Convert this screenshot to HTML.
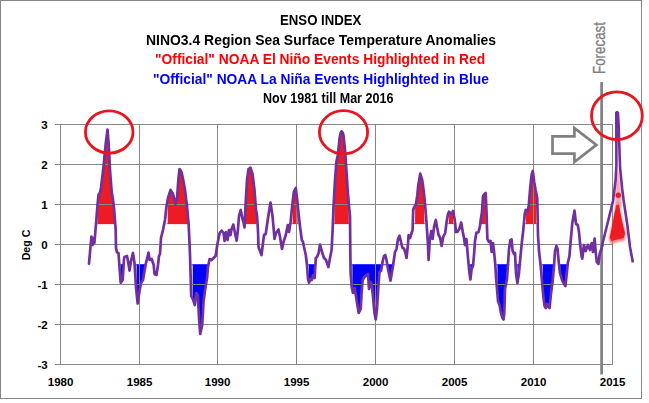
<!DOCTYPE html>
<html><head><meta charset="utf-8"><style>
html,body{margin:0;padding:0;background:#fff;}
body{width:649px;height:403px;position:relative;overflow:hidden;font-family:"Liberation Sans",sans-serif;}
.frame{position:absolute;left:0;top:0;width:640px;height:397px;border:1px solid #868686;box-sizing:content-box;}
.t{position:absolute;white-space:nowrap;font-weight:bold;color:#000;}
</style></head><body>
<div class="frame"></div>
<svg width="649" height="403" viewBox="0 0 649 403" style="position:absolute;left:0;top:0">
<defs><clipPath id="up"><rect x="0" y="0" width="649" height="224.3"/></clipPath><clipPath id="dn"><rect x="0" y="264.3" width="649" height="140"/></clipPath><filter id="bl" x="-30%" y="-30%" width="160%" height="160%"><feGaussianBlur stdDeviation="0.9"/></filter><filter id="bl2" x="-30%" y="-30%" width="160%" height="160%"><feGaussianBlur stdDeviation="1.2"/></filter><filter id="bl3" x="-30%" y="-30%" width="160%" height="160%"><feGaussianBlur stdDeviation="0.5"/></filter></defs>
<g clip-path="url(#up)" fill="#ed1c24">
<path d="M97.5,224.3 L97.5,205.0 L98.6,194.5 L99.8,193.0 L101.0,188.0 L103.6,166.0 L105.7,144.0 L107.5,129.6 L108.7,144.0 L110.0,170.0 L111.7,192.0 L113.0,200.0 L114.0,208.0 L114.8,218.4 L114.8,224.3Z"/>
<rect x="96.3" y="223.4" width="19.7" height="0.9"/>
<path d="M167.7,224.3 L167.7,199.6 L168.0,198.0 L170.6,190.0 L173.0,194.0 L175.5,204.0 L177.0,198.0 L178.5,178.0 L179.6,169.0 L181.5,172.0 L183.2,180.0 L185.0,190.0 L186.2,200.0 L187.0,206.0 L187.7,213.9 L187.7,224.3Z"/>
<rect x="166.5" y="223.4" width="22.4" height="0.9"/>
<path d="M245.4,224.3 L245.4,208.3 L245.7,202.0 L247.0,180.0 L248.5,169.0 L250.5,167.6 L252.5,174.0 L254.5,190.0 L256.0,210.0 L256.1,210.5 L256.1,224.3Z"/>
<rect x="244.2" y="223.4" width="13.1" height="0.9"/>
<path d="M292.7,224.3 L292.7,201.8 L293.8,192.0 L295.8,188.0 L297.2,200.0 L297.7,205.0 L297.7,224.3Z"/>
<rect x="291.5" y="223.4" width="7.4" height="0.9"/>
<path d="M334.5,224.3 L334.5,188.9 L335.0,180.0 L336.4,162.0 L338.0,154.0 L339.6,138.0 L340.6,133.0 L341.6,131.3 L342.6,132.5 L343.4,135.0 L345.0,150.0 L346.4,170.0 L347.6,189.0 L348.7,202.4 L348.7,224.3Z"/>
<rect x="333.3" y="223.4" width="16.6" height="0.9"/>
<path d="M415.1,224.3 L415.1,205.9 L415.8,205.0 L417.2,196.0 L418.2,186.0 L420.2,173.7 L422.2,180.0 L423.8,192.0 L424.3,197.0 L424.3,224.3Z"/>
<rect x="413.9" y="223.4" width="11.6" height="0.9"/>
<path d="M448.9,224.3 L448.9,211.9 L449.0,211.7 L450.6,213.0 L452.0,214.0 L453.0,211.0 L453.1,211.5 L453.1,224.3Z"/>
<rect x="447.7" y="223.4" width="6.6" height="0.9"/>
<path d="M480.9,224.3 L480.9,218.8 L482.0,212.0 L483.0,196.0 L484.5,194.0 L485.7,193.0 L485.8,195.4 L485.8,224.3Z"/>
<rect x="479.7" y="223.4" width="7.3" height="0.9"/>
<path d="M525.9,224.3 L525.9,210.1 L527.5,211.0 L528.7,206.0 L530.2,188.0 L531.6,175.0 L532.8,171.0 L534.2,182.0 L535.6,190.0 L536.1,192.5 L536.1,224.3Z"/>
<rect x="524.7" y="223.4" width="12.6" height="0.9"/>
</g>
<g clip-path="url(#dn)" fill="#0000ff">
<path d="M120.9,264.3 L120.9,282.4 L122.7,280.0 L123.6,265.5 L123.6,264.3Z"/>
<rect x="119.7" y="264.3" width="5.1" height="0.9"/>
<path d="M136.6,264.3 L136.6,292.8 L137.7,303.5 L139.5,291.0 L141.0,283.0 L143.0,280.0 L144.5,271.0 L145.1,267.8 L145.1,264.3Z"/>
<rect x="135.4" y="264.3" width="10.9" height="0.9"/>
<path d="M192.7,264.3 L192.7,299.0 L193.2,300.0 L194.8,305.0 L196.2,293.0 L197.8,295.0 L199.2,321.0 L200.2,334.0 L202.2,325.0 L203.6,301.0 L205.2,289.0 L207.2,277.0 L207.4,274.5 L207.4,264.3Z"/>
<rect x="191.5" y="264.3" width="17.1" height="0.9"/>
<path d="M308.9,264.3 L308.9,282.3 L309.0,282.7 L310.6,279.0 L311.8,280.0 L313.0,275.0 L314.6,278.0 L315.1,269.7 L315.1,264.3Z"/>
<rect x="307.7" y="264.3" width="8.6" height="0.9"/>
<path d="M352.4,264.3 L352.4,290.2 L353.0,293.0 L354.5,288.0 L356.0,296.0 L357.7,307.0 L358.7,313.0 L360.7,309.0 L361.7,291.0 L362.7,280.0 L364.5,277.0 L366.5,275.0 L368.0,274.0 L369.0,289.0 L370.5,282.0 L371.7,284.0 L373.0,297.0 L374.5,313.0 L375.7,319.5 L377.0,309.0 L378.5,285.0 L379.5,272.0 L381.0,271.0 L382.7,261.0 L384.0,256.0 L385.3,255.0 L386.5,260.0 L388.0,269.0 L390.5,280.6 L392.5,269.0 L393.1,265.0 L393.1,264.3Z"/>
<rect x="351.2" y="264.3" width="43.1" height="0.9"/>
<path d="M470.3,264.3 L470.3,278.7 L470.4,279.5 L471.6,269.0 L473.0,266.0 L473.1,264.9 L473.1,264.3Z"/>
<rect x="469.1" y="264.3" width="5.2" height="0.9"/>
<path d="M497.4,264.3 L497.4,293.8 L498.0,301.0 L499.5,305.0 L501.0,313.0 L502.5,318.0 L503.5,319.5 L504.3,313.0 L505.0,289.0 L507.0,279.0 L507.8,267.0 L508.1,262.5 L508.1,264.3Z"/>
<rect x="496.2" y="264.3" width="13.1" height="0.9"/>
<path d="M517.4,264.3 L517.4,283.0 L519.0,273.0 L520.1,260.6 L520.1,264.3Z"/>
<rect x="516.2" y="264.3" width="5.1" height="0.9"/>
<path d="M542.7,264.3 L542.7,289.3 L543.2,295.0 L544.6,306.0 L545.8,308.0 L547.2,304.0 L548.4,307.0 L549.6,308.0 L550.8,295.0 L552.6,281.0 L553.9,267.1 L553.9,264.3Z"/>
<rect x="541.5" y="264.3" width="13.6" height="0.9"/>
<path d="M560.1,264.3 L560.1,273.4 L562.0,280.0 L564.0,284.0 L565.4,286.0 L566.6,275.0 L567.1,270.0 L567.1,264.3Z"/>
<rect x="558.9" y="264.3" width="9.4" height="0.9"/>
</g>
<rect x="55" y="124" width="558" height="1" fill="#868686"/>
<rect x="55" y="164" width="558" height="1" fill="#868686"/>
<rect x="55" y="204" width="558" height="1" fill="#868686"/>
<rect x="55" y="244" width="558" height="1" fill="#868686"/>
<rect x="55" y="284" width="558" height="1" fill="#868686"/>
<rect x="55" y="324" width="558" height="1" fill="#868686"/>
<rect x="55" y="364" width="558" height="1" fill="#868686"/>
<rect x="60" y="124" width="1" height="241" fill="#868686"/>
<rect x="139" y="124" width="1" height="241" fill="#868686"/>
<rect x="217" y="124" width="1" height="241" fill="#868686"/>
<rect x="296" y="124" width="1" height="241" fill="#868686"/>
<rect x="375" y="124" width="1" height="241" fill="#868686"/>
<rect x="454" y="124" width="1" height="241" fill="#868686"/>
<rect x="533" y="124" width="1" height="241" fill="#868686"/>
<rect x="612" y="124" width="1" height="241" fill="#868686"/>
<path d="M616.2,171 L618.4,171 L620.2,186 L621.8,206 L615,209 L615.6,186 Z" fill="#f58a90" opacity="0.8" filter="url(#bl)"/>
<path d="M616.3,203 L619.2,203 L622.3,220 L626,234 L624.5,241 L617,242 L611,244.5 L608.6,239 L611.8,225 L614.3,212 Z" fill="#f2646a" opacity="0.8" filter="url(#bl2)"/>
<path d="M616.5,205 L619,205 L621.8,220 L625,233.5 L623.8,238 L617,239.5 L611.2,241 L609.8,237.5 L612.2,225 L614.6,212.5 Z" fill="#ed1c24" filter="url(#bl3)"/>
<circle cx="618.3" cy="195.2" r="2.7" fill="#ed1c24"/>
<line x1="601.6" y1="82" x2="601.6" y2="374.6" stroke="#808080" stroke-width="2.7"/>
<path d="M89.0,263.7 L91.4,236.5 L92.6,245.0 L93.6,238.0 L94.4,243.0 L96.0,224.0 L97.5,205.0 L98.6,194.5 L99.8,193.0 L101.0,188.0 L103.6,166.0 L105.7,144.0 L107.5,129.6 L108.7,144.0 L110.0,170.0 L111.7,192.0 L113.0,200.0 L114.0,208.0 L115.7,230.0 L116.0,248.0 L117.0,252.5 L118.5,253.0 L119.7,270.0 L120.7,282.7 L122.7,280.0 L124.0,259.0 L124.5,257.0 L127.0,256.0 L128.0,261.0 L129.5,270.6 L131.0,261.0 L133.0,253.0 L134.5,263.0 L136.0,287.0 L137.7,303.5 L139.5,291.0 L141.0,283.0 L143.0,280.0 L144.5,271.0 L146.0,263.0 L147.0,259.0 L148.5,252.5 L149.7,260.0 L151.7,259.0 L153.7,265.0 L154.5,274.0 L156.5,275.0 L158.0,265.0 L159.0,256.0 L160.0,254.0 L161.0,238.0 L163.0,230.0 L165.0,220.0 L166.5,206.0 L168.0,198.0 L170.6,190.0 L173.0,194.0 L175.5,204.0 L177.0,198.0 L178.5,178.0 L179.6,169.0 L181.5,172.0 L183.2,180.0 L185.0,190.0 L186.2,200.0 L187.0,206.0 L188.6,224.0 L189.3,238.0 L190.0,255.0 L190.6,275.0 L191.2,296.0 L193.2,300.0 L194.8,305.0 L196.2,293.0 L197.8,295.0 L199.2,321.0 L200.2,334.0 L202.2,325.0 L203.6,301.0 L205.2,289.0 L207.2,277.0 L208.0,267.0 L209.6,259.0 L211.6,260.0 L213.6,258.0 L215.6,256.0 L217.6,243.0 L219.6,233.0 L221.6,230.6 L223.6,233.0 L224.6,241.0 L226.0,232.0 L227.6,240.0 L229.0,230.0 L230.5,235.0 L231.6,229.0 L233.3,224.6 L235.0,233.0 L236.7,240.6 L238.0,229.0 L239.0,216.0 L240.7,210.0 L242.5,219.0 L243.5,222.0 L244.5,227.4 L245.7,202.0 L247.0,180.0 L248.5,169.0 L250.5,167.6 L252.5,174.0 L254.5,190.0 L256.0,210.0 L257.0,215.0 L258.0,231.0 L258.5,247.0 L260.0,251.0 L261.5,255.0 L263.0,243.0 L264.0,235.0 L265.7,234.0 L267.0,225.0 L268.0,218.0 L270.5,202.5 L272.5,216.0 L273.5,227.0 L274.5,239.0 L276.0,233.0 L278.5,229.4 L280.0,237.0 L282.0,249.0 L283.8,241.0 L285.8,235.0 L287.8,225.0 L289.0,232.0 L290.6,222.0 L292.0,208.0 L293.8,192.0 L295.8,188.0 L297.2,200.0 L298.6,214.0 L299.5,222.0 L300.2,228.0 L301.8,240.0 L303.0,242.0 L304.0,247.0 L305.8,255.0 L307.0,265.0 L308.0,279.0 L309.0,282.7 L310.6,279.0 L311.8,280.0 L313.0,275.0 L314.6,278.0 L315.8,258.0 L317.0,257.0 L318.6,253.0 L320.0,244.6 L322.0,252.0 L324.0,258.0 L326.0,260.0 L328.4,267.0 L330.0,258.0 L331.6,250.0 L332.6,230.0 L333.6,205.0 L335.0,180.0 L336.4,162.0 L338.0,154.0 L339.6,138.0 L340.6,133.0 L341.6,131.3 L342.6,132.5 L343.4,135.0 L345.0,150.0 L346.4,170.0 L347.6,189.0 L349.0,206.0 L350.0,216.0 L350.3,250.0 L350.6,273.0 L351.7,287.0 L353.0,293.0 L354.5,288.0 L356.0,296.0 L357.7,307.0 L358.7,313.0 L360.7,309.0 L361.7,291.0 L362.7,280.0 L364.5,277.0 L366.5,275.0 L368.0,274.0 L369.0,289.0 L370.5,282.0 L371.7,284.0 L373.0,297.0 L374.5,313.0 L375.7,319.5 L377.0,309.0 L378.5,285.0 L379.5,272.0 L381.0,271.0 L382.7,261.0 L384.0,256.0 L385.3,255.0 L386.5,260.0 L388.0,269.0 L390.5,280.6 L392.5,269.0 L394.0,259.0 L395.0,252.0 L396.5,249.0 L398.0,239.0 L399.5,235.7 L401.0,242.0 L402.5,248.0 L404.0,248.5 L405.5,253.0 L406.5,258.0 L407.8,246.0 L408.6,235.0 L410.0,238.0 L411.0,235.0 L412.6,230.0 L413.2,210.0 L414.2,207.0 L415.8,205.0 L417.2,196.0 L418.2,186.0 L420.2,173.7 L422.2,180.0 L423.8,192.0 L425.2,206.0 L426.6,224.0 L427.8,242.0 L428.6,260.0 L429.8,240.0 L431.2,231.0 L432.6,239.0 L434.2,226.0 L435.8,220.0 L437.2,228.0 L438.6,235.0 L440.2,238.0 L441.6,246.0 L443.2,237.0 L445.2,233.0 L446.6,222.0 L448.0,214.0 L449.0,211.7 L450.6,213.0 L452.0,214.0 L453.0,211.0 L454.6,219.0 L456.0,232.0 L457.4,232.0 L459.4,228.8 L461.2,222.5 L462.8,232.0 L464.0,238.0 L465.0,245.0 L466.4,239.0 L467.4,251.0 L469.0,269.0 L470.4,279.5 L471.6,269.0 L473.0,266.0 L474.0,255.0 L475.0,241.0 L476.4,232.5 L477.6,232.5 L478.6,232.0 L480.0,226.0 L480.7,220.0 L482.0,212.0 L483.0,196.0 L484.5,194.0 L485.7,193.0 L486.5,212.0 L487.0,228.0 L487.4,239.0 L489.0,242.0 L490.6,241.0 L491.6,252.0 L493.0,243.0 L494.4,255.0 L495.3,265.0 L496.0,277.0 L497.0,289.0 L498.0,301.0 L499.5,305.0 L501.0,313.0 L502.5,318.0 L503.5,319.5 L504.3,313.0 L505.0,289.0 L507.0,279.0 L507.8,267.0 L509.0,249.0 L510.4,240.0 L511.6,239.5 L512.6,251.0 L514.0,254.0 L515.0,253.0 L516.0,273.0 L517.4,283.0 L519.0,273.0 L520.6,255.0 L522.0,241.0 L523.4,229.0 L524.7,214.0 L525.7,210.0 L527.5,211.0 L528.7,206.0 L530.2,188.0 L531.6,175.0 L532.8,171.0 L534.2,182.0 L535.6,190.0 L537.2,198.0 L537.6,214.0 L538.0,235.0 L539.0,251.0 L540.6,265.0 L541.8,279.0 L543.2,295.0 L544.6,306.0 L545.8,308.0 L547.2,304.0 L548.4,307.0 L549.6,308.0 L550.8,295.0 L552.6,281.0 L554.1,265.0 L555.0,251.0 L556.4,246.0 L557.6,249.0 L558.6,261.0 L560.0,273.0 L562.0,280.0 L564.0,284.0 L565.4,286.0 L566.6,275.0 L567.8,263.0 L569.4,256.4 L570.7,240.8 L572.3,223.0 L574.5,210.7 L576.0,224.0 L577.8,225.0 L579.0,232.0 L580.0,243.0 L581.6,256.4 L582.3,258.6 L583.9,245.0 L585.7,251.0 L587.9,245.0 L590.0,250.0 L591.7,243.0 L593.0,252.0 L594.6,238.5 L595.7,252.0 L596.8,262.0 L598.4,264.0 L599.7,254.0 L601.0,250.0 L602.4,245.2" fill="none" stroke="#7030a0" stroke-width="2.7" stroke-linejoin="round" stroke-linecap="round"/>
<path d="M601.8,246.5 L607.2,224.7 L613.0,201.0 L615.6,180.0 L616.4,165.0 L616.3,112.3 L617.9,112.3 L618.5,122.0 L620.1,168.0 L622.2,189.0 L623.9,202.3 L627.3,224.7 L630.0,247.0 L632.9,262.6" fill="none" stroke="#7030a0" stroke-width="2.6" stroke-linejoin="bevel" stroke-linecap="butt"/>
<path d="M552.5,136.4 L574.4,136.4 L574.4,128.1 L596.4,144.9 L574.4,162.1 L574.4,153.6 L552.5,153.6 Z" fill="#fff" stroke="#808080" stroke-width="2.7" stroke-linejoin="miter"/>
<ellipse cx="109.2" cy="132" rx="23.8" ry="21.1" fill="none" stroke="#e8141e" stroke-width="2.8"/>
<ellipse cx="343.5" cy="132.3" rx="24.1" ry="21.6" fill="none" stroke="#e8141e" stroke-width="2.8"/>
<ellipse cx="616.9" cy="115.7" rx="25.4" ry="23.9" fill="none" stroke="#e8141e" stroke-width="2.8"/>
</svg>
<div class="t" style="left:280.2px;top:13.15px;font-size:14px;line-height:14px;color:#000;transform-origin:0 0;transform:scaleX(0.9426)">ENSO INDEX</div>
<div class="t" style="left:145.5px;top:33.05px;font-size:14px;line-height:14px;color:#000;transform-origin:0 0;transform:scaleX(0.9953)">NINO3.4 Region Sea Surface Temperature Anomalies</div>
<div class="t" style="left:155.4px;top:52.15px;font-size:14px;line-height:14px;color:#ff0000;transform-origin:0 0;transform:scaleX(0.9860)">"Official" NOAA El Niño Events Highlighted in Red</div>
<div class="t" style="left:152.6px;top:71.65px;font-size:14px;line-height:14px;color:#0000ff;transform-origin:0 0;transform:scaleX(0.9850)">"Official" NOAA La Niña Events Highlighted in Blue</div>
<div class="t" style="left:263.3px;top:90.10px;font-size:15px;line-height:15px;color:#000;transform-origin:0 0;transform:scaleX(0.8363)">Nov 1981 till Mar 2016</div>
<div class="t" style="right:601.4px;top:360.18px;font-size:11.5px;line-height:11.5px">-3</div>
<div class="t" style="right:601.4px;top:320.18px;font-size:11.5px;line-height:11.5px">-2</div>
<div class="t" style="right:601.4px;top:280.18px;font-size:11.5px;line-height:11.5px">-1</div>
<div class="t" style="right:601.4px;top:240.18px;font-size:11.5px;line-height:11.5px">0</div>
<div class="t" style="right:601.4px;top:200.18px;font-size:11.5px;line-height:11.5px">1</div>
<div class="t" style="right:601.4px;top:160.18px;font-size:11.5px;line-height:11.5px">2</div>
<div class="t" style="right:601.4px;top:120.18px;font-size:11.5px;line-height:11.5px">3</div>
<div class="t" style="left:40.6px;width:40px;text-align:center;top:376.67px;font-size:11.5px;line-height:11.5px">1980</div>
<div class="t" style="left:119.6px;width:40px;text-align:center;top:376.67px;font-size:11.5px;line-height:11.5px">1985</div>
<div class="t" style="left:197.6px;width:40px;text-align:center;top:376.67px;font-size:11.5px;line-height:11.5px">1990</div>
<div class="t" style="left:276.6px;width:40px;text-align:center;top:376.67px;font-size:11.5px;line-height:11.5px">1995</div>
<div class="t" style="left:355.6px;width:40px;text-align:center;top:376.67px;font-size:11.5px;line-height:11.5px">2000</div>
<div class="t" style="left:434.6px;width:40px;text-align:center;top:376.67px;font-size:11.5px;line-height:11.5px">2005</div>
<div class="t" style="left:513.6px;width:40px;text-align:center;top:376.67px;font-size:11.5px;line-height:11.5px">2010</div>
<div class="t" style="left:592.6px;width:40px;text-align:center;top:376.67px;font-size:11.5px;line-height:11.5px">2015</div>
<div class="t" style="left:-24.1px;top:238.5px;width:100px;text-align:center;font-size:11.3px;line-height:12px;transform:rotate(-90deg) scaleX(0.94)">Deg C</div>
<div class="t" style="left:550.0px;top:40.9px;width:100px;text-align:center;font-weight:normal;color:#7e7e7e;-webkit-text-stroke:0.25px #7e7e7e;font-size:13.33px;line-height:14px;transform:rotate(-90deg) scaleY(1.2)">Forecast</div>
</body></html>
